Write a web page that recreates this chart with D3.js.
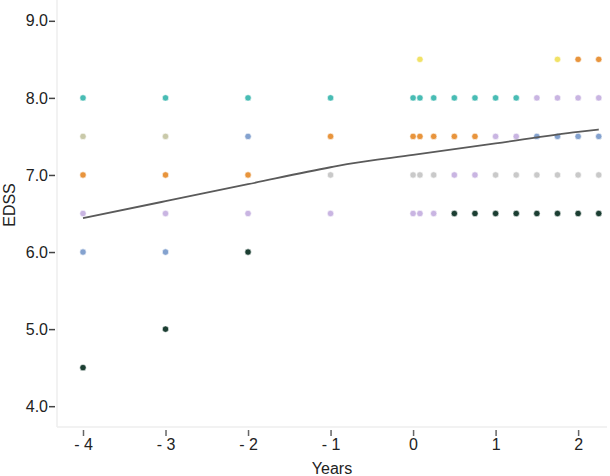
<!DOCTYPE html>
<html>
<head>
<meta charset="utf-8">
<script src="https://cdn.jsdelivr.net/npm/d3@7"></script>
<style>
  body { margin: 0; background: #fff; }
  text { font-family: "Liberation Sans", Arial, sans-serif; }
</style>
</head>
<body>
<div id="chart"></div>
<script>
// years relative to event
const yearTicks = [-4, -3, -2, -1, 0, 1, 2];
const edssTicks = [4, 5, 6, 7, 8, 9];

// one array per colour group: [year, EDSS]
const teal = [[-4, 8], [-3, 8], [-2, 8], [-1, 8], [0, 8], [0.083, 8], [0.25, 8], [0.5, 8], [0.75, 8], [1, 8], [1.25, 8]];
const khaki = [[-4, 7.5], [-3, 7.5]];
const orange = [[-4, 7], [-3, 7], [-2, 7], [-1, 7.5], [0, 7.5], [0.083, 7.5], [0.25, 7.5], [0.5, 7.5], [0.75, 7.5], [2, 8.5], [2.25, 8.5]];
const lavender = [[-4, 6.5], [-3, 6.5], [-2, 6.5], [-1, 6.5], [0, 6.5], [0.083, 6.5], [0.25, 6.5], [0.5, 7], [0.75, 7], [1, 7.5], [1.25, 7.5], [1.5, 8], [1.75, 8], [2, 8], [2.25, 8]];
const blue = [[-4, 6], [-3, 6], [-2, 7.5], [1.5, 7.5], [1.75, 7.5], [2, 7.5], [2.25, 7.5]];
const darkGreen = [[-4, 4.5], [-3, 5], [-2, 6], [0.5, 6.5], [0.75, 6.5], [1, 6.5], [1.25, 6.5], [1.5, 6.5], [1.75, 6.5], [2, 6.5], [2.25, 6.5]];
const gray = [[-1, 7], [0, 7], [0.083, 7], [0.25, 7], [1, 7], [1.25, 7], [1.5, 7], [1.75, 7], [2, 7], [2.25, 7]];
const yellow = [[0.083, 8.5], [1.75, 8.5]];

// smoothed trend
const trend = [[-4, 6.44], [-3, 6.66], [-2, 6.88], [-1, 7.10], [-0.8, 7.14], [0, 7.26], [1, 7.41], [2, 7.56], [2.25, 7.59]];

const groups = [
  {data: teal, color: "#48bcb4"},
  {data: khaki, color: "#c9c9a9"},
  {data: orange, color: "#e8943c"},
  {data: lavender, color: "#c9b5e2"},
  {data: blue, color: "#84a2cf"},
  {data: gray, color: "#c9c9c9"},
  {data: yellow, color: "#f1e266"},
  {data: darkGreen, color: "#1b3e32"}
];

const W = 610, H = 476;
const plotL = 57, plotR = 607, plotT = 0, plotB = 427;

const svg = d3.select("#chart").append("svg")
    .attr("width", W)
    .attr("height", H);

const x = d3.scaleLinear().domain([-4.315, 2.35]).range([plotL, plotR]);
const y = d3.scaleLinear().domain([3.73, 9.27]).range([plotB, plotT]);

// frame lines
svg.append("line")
    .attr("x1", plotL).attr("x2", plotL).attr("y1", plotT).attr("y2", plotB)
    .attr("stroke", "#eeeeee").attr("stroke-width", 1.5);
svg.append("line")
    .attr("x1", plotL).attr("x2", plotR).attr("y1", plotB).attr("y2", plotB)
    .attr("stroke", "#eeeeee").attr("stroke-width", 1.5);

// Y axis
const yAxis = svg.append("g")
    .attr("transform", "translate(" + (plotL - 2) + ",0)")
    .call(d3.axisLeft(y).tickValues(edssTicks).tickFormat(d3.format(".1f")).tickSize(6).tickPadding(1));
yAxis.select(".domain").remove();
yAxis.selectAll(".tick line").attr("stroke", "#444").attr("stroke-width", 1.5);
yAxis.selectAll(".tick text").attr("font-size", 16).attr("fill", "#222");

// X axis
const xAxis = svg.append("g")
    .attr("transform", "translate(0," + (plotB + 3) + ")")
    .call(d3.axisBottom(x).tickValues(yearTicks)
        .tickFormat(d => d < 0 ? "- " + Math.abs(d) : String(d))
        .tickSize(6).tickPadding(3));
xAxis.select(".domain").remove();
xAxis.selectAll(".tick line").attr("stroke", "#666").attr("stroke-width", 1.5);
xAxis.selectAll(".tick text").attr("font-size", 16).attr("fill", "#222");

// titles
svg.append("text")
    .attr("x", (plotL + plotR) / 2)
    .attr("y", 474)
    .attr("text-anchor", "middle")
    .attr("font-size", 16)
    .attr("fill", "#222")
    .text("Years");

svg.append("text")
    .attr("transform", "translate(15,205) rotate(-90)")
    .attr("text-anchor", "middle")
    .attr("font-size", 16)
    .attr("fill", "#222")
    .text("EDSS");

// points
groups.forEach(function (g) {
    svg.append("g")
        .selectAll("circle")
        .data(g.data)
        .join("circle")
        .attr("cx", d => x(d[0]))
        .attr("cy", d => y(d[1]))
        .attr("r", 3.2)
        .attr("fill", g.color)
        .attr("stroke", "#fff")
        .attr("stroke-opacity", 0.6)
        .attr("stroke-width", 1);
});

// trend line
svg.append("path")
    .datum(trend)
    .attr("fill", "none")
    .attr("stroke", "#5a5a5a")
    .attr("stroke-width", 1.8)
    .attr("d", d3.line()
        .x(d => x(d[0]))
        .y(d => y(d[1]))
        .curve(d3.curveMonotoneX));
</script>
</body>
</html>
